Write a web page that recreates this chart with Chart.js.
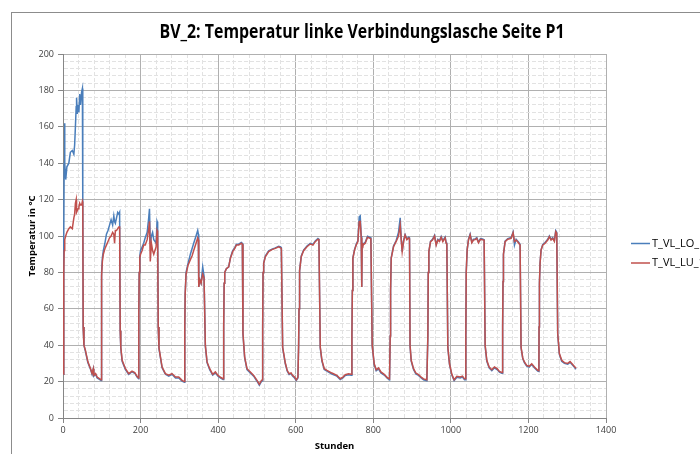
<!DOCTYPE html>
<html>
<head>
<meta charset="utf-8">
<script src="https://cdn.jsdelivr.net/npm/chart.js@4.4.1/dist/chart.umd.min.js"></script>
<style>
    html, body { margin: 0; padding: 0; background: #fff; overflow: hidden; width: 700px; height: 454px; }
    #rahmen { position: absolute; left: 11px; top: 12px; width: 800px; height: 600px; border: 1px solid #8c8c8c; }
    #temp { position: absolute; left: 0; top: 0; }
</style>
</head>
<body>
<div id="rahmen"></div>
<canvas id="temp" width="724" height="460"></canvas>
<script>
        const titel = 'BV_2: Temperatur linke Verbindungslasche Seite P1';
        const serien = ['T_VL_LO_1', 'T_VL_LU_1'];
        const xTicks = [0, 200, 400, 600, 800, 1000, 1200, 1400];
        const yTicks = [0, 20, 40, 60, 80, 100, 120, 140, 160, 180, 200];

        // Stunden (je Zeile ein Heiz- bzw. Abkuehlabschnitt)
        const stunden = [
            1, 2, 3, 4, 5, 7, 10, 15, 19, 24, 28, 30, 32, 34, 35, 37, 39, 41, 43, 45, 48, 50, 51, 52, 54,
            58, 64, 71, 75, 78, 79.5, 84, 88, 94, 98,
            99, 100, 101.5, 104, 108, 112, 116, 120, 124, 128, 131, 133, 135, 138, 141, 144, 146, 147.5, 149,
            152.5, 161, 169.5, 178, 185, 191, 195,
            195.5, 196.5, 198, 200, 204, 208, 212, 217, 221, 223, 225, 228, 231, 234, 237, 240, 242.5, 244, 245.5, 247.5,
            255.5, 264, 272.7, 281, 290, 298.4, 307, 313,
            314, 315, 317.3, 322.4, 328.4, 332.7, 337, 343, 347.3, 349, 350, 352.5, 356, 360.2, 363.6, 365.4,
            367, 371.4, 378.2, 386, 392.8, 399.7, 405.7, 412.6,
            414.3, 415.5, 417, 421.2, 427.2, 431.5, 437.5, 442.6, 447, 453, 459.8, 462.4,
            464, 468.4, 474.4, 483, 491.6, 500.2, 506.2, 511.3, 513.9,
            514.8, 515.8, 517.4, 521.6, 530.2, 538.8, 547.4, 556, 561.1, 563,
            566.3, 573.2, 578, 583, 588, 592, 597, 601.5, 605.7,
            607.5, 608.5, 610, 614.3, 620.3, 629, 637.5, 644.4, 650.4, 657.3, 659.8,
            663.3, 667.6, 673.6, 680.5, 693.3, 706.2, 714.8, 721.7, 727.7, 736.3, 743,
            744.9, 746, 747.4, 751.7, 756, 760.3, 763.7, 766.3, 768.9, 770, 770.6, 771.2, 773.2, 779.2, 785.2, 790.4, 793.8,
            797.2, 802.4, 807.5, 813.6, 819.6, 828.2, 836.7, 841.9,
            843.6, 844.6, 846.2, 852.2, 859, 865, 869.4, 872, 874.5, 878, 882, 886.5, 891.7, 893.4,
            894.8, 897.8, 903.8, 909.8, 916.6, 923.5, 929.5, 938.1,
            940.7, 941.7, 943.3, 947.6, 952.7, 957.9, 962.2, 966.5, 970.7, 975, 979.3, 985.3, 987.9, 989.6,
            992.2, 996.5, 1002.5, 1008.5, 1015.4, 1024, 1030, 1035.2, 1038.2,
            1038.6, 1039.6, 1042, 1045.5, 1049.7, 1054, 1058.3, 1062.6, 1066.9, 1071.2, 1076.4, 1081.5, 1085.8,
            1088.4, 1092.7, 1098.7, 1105.6, 1112.4, 1119.3, 1125.3, 1131.3, 1133,
            1133.5, 1134.5, 1135.6, 1139.9, 1146.8, 1155.4, 1160.5, 1164, 1168.3, 1174.3, 1178.5,
            1181, 1185.4, 1189.6, 1195.6, 1201.7, 1208.5, 1215.4, 1224, 1227,
            1227.4, 1228.4, 1230, 1232.6, 1236.9, 1242.9, 1249.8, 1254, 1258.3, 1262.6, 1266.9, 1270.4, 1273,
            1275.5, 1279.8, 1285.8, 1292.7, 1301.3, 1307.3, 1315.9, 1322.7
        ];

        // T_VL_LO_1 (blau)
        const tLO = [
            24, 100, 140, 162, 140, 131, 138, 140, 146, 147, 145, 150, 160, 171, 176, 167, 172, 168, 178, 172, 179, 181, 118, 50, 40,
            36.5, 30.5, 26.8, 24, 26.8, 23, 24, 22, 21.2, 20.6,
            58, 80, 88, 92, 96, 101, 103, 106, 109, 106, 111, 108, 107, 110, 113, 112, 113, 48, 38.5,
            31.2, 26.6, 24, 25.4, 24.6, 22.5, 21.6,
            58, 80, 89, 92, 94, 96, 99, 102, 110, 115, 96, 100, 102, 98, 97, 96, 108, 107, 50, 38,
            27.6, 24, 23, 24, 22, 22, 20.2, 19.6,
            50, 68, 80, 85, 90, 93, 96, 100, 103, 101, 72, 76, 74, 83, 78, 78,
            39.5, 30.4, 26.6, 23.6, 24.8, 23, 22, 21.2,
            50, 74, 80, 82, 83, 88, 92, 93.5, 95.5, 95.5, 96.5, 96,
            46, 33, 26.6, 24.8, 23, 20.2, 18, 20, 20.5,
            50, 80, 85, 89, 91.8, 92.8, 93.5, 94.4, 94, 93.5,
            38.5, 29.8, 25.8, 23.9, 24.4, 23, 22, 20.6, 22,
            40, 60, 81, 89, 92.3, 94.5, 96, 95.4, 97.3, 98.6, 98.2,
            38.5, 31.2, 26.6, 25.7, 24.2, 23, 21.1, 22, 23.3, 23.8, 23.5,
            45, 70, 88, 92.5, 95.5, 97.5, 110.5, 111, 100, 99, 72, 96, 95.5, 96.5, 99.8, 99.3, 99,
            39.5, 29.4, 26, 27, 24.8, 23.6, 21.7, 21,
            45, 70, 88, 94.5, 97.5, 102, 110, 98.5, 91.4, 97.5, 100.8, 98.4, 99.4, 99,
            39.5, 31.2, 26.6, 24.2, 23.4, 22, 21, 20.5,
            45, 80, 91.4, 97, 98.2, 100.4, 95.4, 98.2, 97.4, 99.7, 97.4, 99.4, 96.4, 96,
            38.5, 29.4, 23.6, 20.6, 22.4, 22, 22.5, 21, 21,
            45, 80, 92.3, 98.2, 101, 96.7, 98.2, 98.4, 99.1, 96.7, 98.6, 98.4, 98,
            39.5, 31.2, 27.6, 26, 27.6, 26.6, 25.2, 24.6, 24.6,
            50, 75, 90, 97.2, 98.6, 99.2, 102.2, 95, 98.2, 96.7, 95.4,
            38.5, 32.6, 30.4, 28.5, 28, 29.4, 27.6, 25.8, 25.6,
            50, 73.9, 85, 92.3, 95.4, 96.4, 98.2, 100, 98.2, 99.1, 97.4, 103, 102,
            45.9, 35, 31.2, 30, 29.6, 30.6, 28.5, 26.8
        ];

        // T_VL_LU_1 (rot)
        const tLU = [
            24, 80, 92, 97, 98, 100, 102, 104, 105, 104, 110, 112, 118, 120, 113, 114, 115, 116, 118, 117, 117, 119, 118, 50, 40,
            37, 31, 27.1, 24.4, 27, 23.5, 24.4, 22.5, 21.6, 21,
            58, 78, 86, 90, 93, 95, 97, 99, 100, 102, 101, 96, 103, 103, 104, 105, 105, 48, 39,
            31.7, 27.1, 24.4, 25.8, 25, 22.9, 22,
            58, 80, 88, 90, 92, 95, 95, 98, 104, 108, 86, 96, 92, 90, 92, 94, 103, 102, 50, 38.5,
            28, 24.4, 23.5, 24.4, 22.5, 22.5, 20.7, 20,
            50, 68, 79, 84, 87, 89, 92, 96, 99, 98, 72, 76, 74, 79, 77, 77,
            40, 30.8, 27.1, 24, 25.3, 23.4, 22.5, 21.6,
            50, 74, 80, 82, 83, 87.7, 91.4, 93, 95, 95, 96, 95.5,
            46.4, 33.5, 27.1, 25.3, 23.4, 20.7, 18.5, 20.5, 21,
            50, 80, 85, 88.6, 91.4, 92.5, 93.2, 94.1, 93.5, 93,
            39, 30.2, 26.2, 24.3, 24.8, 23.4, 22.5, 21, 22.5,
            40, 60, 81, 88.6, 91.9, 94.1, 95.6, 95, 96.9, 98.2, 98,
            39, 31.7, 27.1, 26.2, 24.7, 23.4, 21.6, 22.5, 23.8, 24.3, 24,
            45, 70, 87.7, 92.3, 95, 97, 107.9, 108, 99, 98, 72, 96, 95, 96, 99.3, 98.8, 98.5,
            40, 29.8, 26.5, 27.5, 25.3, 24, 22.1, 21.5,
            45, 70, 87.7, 94.1, 97, 100, 106, 98, 91.4, 97, 100.5, 98, 99, 98.5,
            40, 31.7, 27.1, 24.7, 23.8, 22.5, 21.5, 21,
            45, 80, 91.4, 96.9, 97.8, 100, 95, 97.8, 97, 99.3, 96.9, 99, 96, 95.6,
            39, 29.8, 24, 21, 22.9, 22.5, 23, 21.5, 21.5,
            45, 80, 92.3, 97.8, 100.6, 96.3, 97.8, 98, 98.7, 96.3, 98.2, 98, 97.6,
            40, 31.7, 28, 26.5, 28, 27.1, 25.6, 25, 25,
            50, 75, 90, 96.9, 98.2, 98.7, 101.8, 97, 97.8, 96.3, 95,
            39, 33, 30.8, 28.9, 28.4, 29.8, 28, 26.2, 26,
            50, 73.9, 85, 92.3, 95, 96, 97.8, 99.6, 97.8, 98.7, 97, 102.4, 101.5,
            46.4, 35.4, 31.7, 30.4, 30, 31, 29, 27.3
        ];

        // Titel + Legende selbst zeichnen (Legende liegt rechts teilweise ausserhalb)
        const beschriftung = {
            id: 'beschriftung',
            afterDraw(chart) {
                const c = chart.ctx;
                c.save();
                c.fillStyle = '#000';
                c.font = 'bold 19px "Open Sans"';
                c.textAlign = 'center';
                c.textBaseline = 'middle';
                const w = c.measureText(titel).width;
                c.translate(362, 33);
                c.scale(Math.min(1, 405 / w), 1);
                c.fillText(titel, 0, 0);
                c.restore();

                chart.data.datasets.forEach(function(ds, i) {
                    const y = 243.5 + i * 19.5;
                    c.save();
                    c.strokeStyle = ds.borderColor;
                    c.lineWidth = 1.5;
                    c.beginPath();
                    c.moveTo(631, y);
                    c.lineTo(650, y);
                    c.stroke();
                    c.fillStyle = '#000';
                    c.font = '11px "Open Sans"';
                    c.textBaseline = 'middle';
                    c.fillText(ds.label, 652, y);
                    c.restore();
                });
            }
        };

        const haupt = (ticks) => (ctx) => ctx.tick && ticks.includes(ctx.tick.value);

        const xMajor = haupt(xTicks);
        const yMajor = haupt(yTicks);

        const ctx = document.getElementById('temp');

        new Chart(ctx, {
            type: 'line',
            data: {
                datasets: [{
                    label: serien[0],
                    data: stunden.map((h, i) => ({ x: h, y: tLO[i] })),
                    borderColor: '#4a7ebb',
                    borderWidth: 1.5,
                    pointRadius: 0,
                    order: 2
                }, {
                    label: serien[1],
                    data: stunden.map((h, i) => ({ x: h, y: tLU[i] })),
                    borderColor: '#c0504d',
                    borderWidth: 1.5,
                    pointRadius: 0,
                    order: 1
                }]
            },
            options: {
                responsive: false,
                maintainAspectRatio: false,
                animation: false,
                devicePixelRatio: 1,
                layout: { padding: { left: 0, top: 54, right: 118, bottom: 0 } },
                plugins: {
                    legend: { display: false },
                    title: { display: false },
                    tooltip: { enabled: false }
                },
                scales: {
                    x: {
                        type: 'linear',
                        min: 0,
                        max: 1400,
                        afterFit: function(scale) { scale.height = 42; },
                        ticks: {
                            stepSize: 40,
                            autoSkip: false,
                            maxRotation: 0,
                            padding: 2,
                            color: '#404040',
                            font: { family: 'Open Sans', size: 9 },
                            callback: function(v) { return xTicks.includes(v) ? String(v) : ''; }
                        },
                        grid: {
                            color: (c) => xMajor(c) ? '#b0b0b0' : '#e2e2e2',
                            tickColor: (c) => xMajor(c) ? '#868686' : 'rgba(0,0,0,0)',
                            tickLength: 5
                        },
                        border: {
                            color: '#868686',
                            dash: (c) => (c.tick && !xMajor(c)) ? [4, 2] : []
                        },
                        title: {
                            display: true,
                            text: 'Stunden',
                            color: '#000',
                            font: { family: 'Open Sans', size: 9.5, weight: 'bold' },
                            padding: { top: 0, bottom: 8 }
                        }
                    },
                    y: {
                        min: 0,
                        max: 200,
                        afterFit: function(scale) { scale.width = 63; },
                        ticks: {
                            stepSize: 4,
                            autoSkip: false,
                            padding: 4,
                            color: '#404040',
                            font: { family: 'Open Sans', size: 9 },
                            callback: function(v) { return yTicks.includes(v) ? String(v) : ''; }
                        },
                        grid: {
                            color: (c) => yMajor(c) ? '#b0b0b0' : '#e2e2e2',
                            tickColor: (c) => yMajor(c) ? '#868686' : 'rgba(0,0,0,0)',
                            tickLength: 5
                        },
                        border: {
                            color: '#868686',
                            dash: (c) => (c.tick && !yMajor(c)) ? [4, 2] : []
                        },
                        title: {
                            display: true,
                            text: 'Temperatur in °C',
                            color: '#000',
                            font: { family: 'Open Sans', size: 9.5, weight: 'bold' },
                            padding: { top: 27, bottom: 0 }
                        }
                    }
                }
            },
            plugins: [beschriftung]
        });
</script>
</body>
</html>
